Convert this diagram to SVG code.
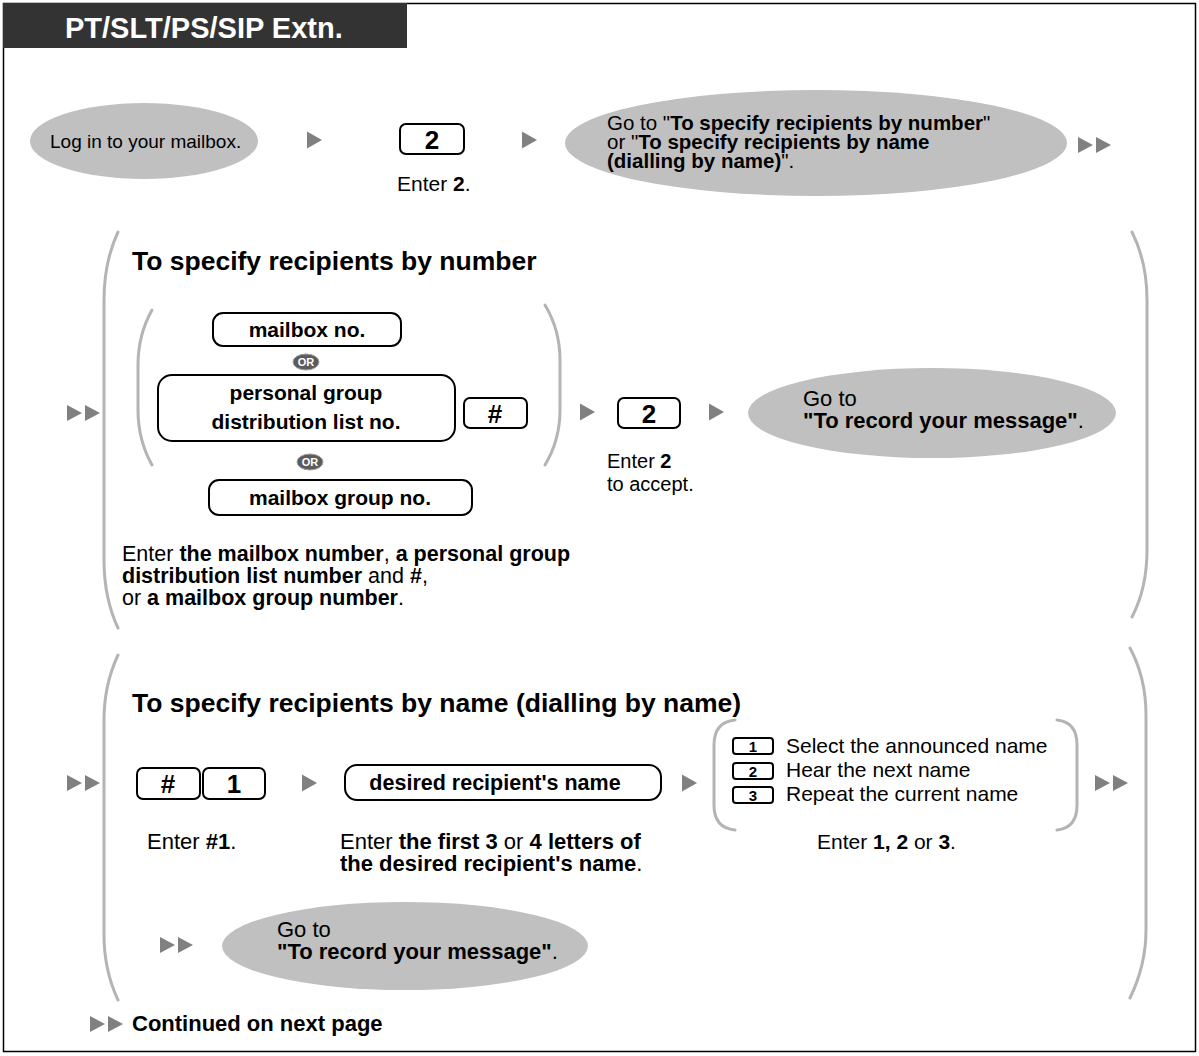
<svg xmlns="http://www.w3.org/2000/svg" xmlns:xlink="http://www.w3.org/1999/xlink" width="1199" height="1056" viewBox="0 0 1199 1056">
<defs>
<style>
text{font-family:"Liberation Sans",Arial,Helvetica,sans-serif;fill:#000}
.b{font-weight:bold}
.t19{font-size:19px}
.t21{font-size:21px}
.t22{font-size:22px}
.ttl{font-size:26.5px;font-weight:bold}
.lbl{font-size:21px;font-weight:bold;text-anchor:middle}
.key{fill:#fff;stroke:#000;stroke-width:2}
.keyt{font-size:26px;font-weight:bold;text-anchor:middle}
.skt{font-size:15px;font-weight:bold;text-anchor:middle}
.ell{fill:#c0c0c0}
.brk{fill:none;stroke:#b4b4b4;stroke-width:3;stroke-linecap:round}
.arr{fill:#808080}
.or{fill:#5c5c5c;stroke:#a0a0a0;stroke-width:1}
.ort{font-size:11px;font-weight:bold;fill:#fff;text-anchor:middle}
</style>
<path id="tri" d="M0,-8.5 L15,0 L0,8.5 Z"/>
<g id="dbl"><path d="M0,-8 L15,0 L0,8 Z"/><path d="M18,-8 L33,0 L18,8 Z"/></g>
</defs>
<rect x="3.5" y="3.5" width="1192" height="1048" fill="#fff" stroke="#000" stroke-width="1.5"/>
<g id="header">
<rect x="3" y="3" width="404" height="45" fill="#333"/>
<text x="65" y="38" class="b" style="font-size:29px;fill:#fff">PT/SLT/PS/SIP Extn.</text>
</g>
<g id="connectors" class="arr">
<use xlink:href="#tri" x="307" y="140"/>
<use xlink:href="#tri" x="522" y="140"/>
<use xlink:href="#dbl" x="1078" y="145"/>
<use xlink:href="#dbl" x="67" y="413"/>
<use xlink:href="#tri" x="580" y="412"/>
<use xlink:href="#tri" x="709" y="412"/>
<use xlink:href="#dbl" x="67" y="783"/>
<use xlink:href="#tri" x="302" y="783"/>
<use xlink:href="#tri" x="682" y="783"/>
<use xlink:href="#dbl" x="1095" y="783"/>
<use xlink:href="#dbl" x="160" y="945"/>
<use xlink:href="#dbl" x="90" y="1024"/>
</g>
<g id="login">
<ellipse class="ell" cx="144" cy="141" rx="114" ry="38"/>
<text x="50" y="148" class="t19">Log in to your mailbox.</text>
</g>
<g id="key2a">
<rect class="key" x="400" y="124" width="64" height="30" rx="6"/>
<text x="432" y="149" class="keyt">2</text>
<text x="397" y="191" class="t21">Enter <tspan class="b">2</tspan>.</text>
</g>
<g id="goto1">
<ellipse class="ell" cx="816" cy="143" rx="251" ry="53"/>
<text x="607" y="130" class="t21" style="font-size:20.5px">Go to "<tspan class="b">To specify recipients by number</tspan>"</text>
<text x="607" y="149" class="t21" style="font-size:20.5px">or "<tspan class="b">To specify recipients by name</tspan></text>
<text x="607" y="168" class="t21" style="font-size:20.5px"><tspan class="b">(dialling by name)</tspan>".</text>
</g>
<g id="byNumber">
<path class="brk" d="M118,232 Q104,262 104,300 L104,560 Q104,598 118,628"/>
<path class="brk" d="M1132,232 Q1147,262 1147,300 L1147,550 Q1147,588 1132,617"/>
<text x="132" y="270" class="ttl">To specify recipients by number</text>
</g>
<g id="options">
<path class="brk" d="M152,310 Q138,335 138,365 L138,410 Q138,440 152,465"/>
<path class="brk" d="M545,305 Q560,330 560,360 L560,410 Q560,440 545,465"/>
<rect class="key" x="213" y="313" width="188" height="33" rx="10"/>
<text x="307" y="337" class="lbl">mailbox no.</text>
<ellipse class="or" cx="306" cy="362" rx="13" ry="8"/>
<text x="306" y="366" class="ort">OR</text>
<rect class="key" x="158" y="375" width="297" height="66" rx="14"/>
<text x="306" y="400" class="lbl">personal group</text>
<text x="306" y="429" class="lbl">distribution list no.</text>
<ellipse class="or" cx="310" cy="462" rx="13" ry="8"/>
<text x="310" y="466" class="ort">OR</text>
<rect class="key" x="209" y="480" width="263" height="35" rx="10"/>
<text x="340" y="505" class="lbl">mailbox group no.</text>
</g>
<g id="keyHash">
<rect class="key" x="464" y="398" width="63" height="30" rx="6"/>
<text x="495" y="423" class="keyt">#</text>
</g>
<g id="key2b">
<rect class="key" x="618" y="398" width="62" height="30" rx="6"/>
<text x="649" y="423" class="keyt">2</text>
<text x="607" y="468" class="t19" style="font-size:20px">Enter <tspan class="b">2</tspan></text>
<text x="607" y="491" class="t19" style="font-size:20px">to accept.</text>
</g>
<g id="goto2">
<ellipse class="ell" cx="932" cy="413" rx="184" ry="45"/>
<text x="803" y="406" class="t22">Go to</text>
<text x="803" y="428" class="t22"><tspan class="b">"To record your message"</tspan>.</text>
</g>
<g id="note1">
<text x="122" y="561" class="t21" style="font-size:21.5px">Enter <tspan class="b">the mailbox number</tspan>, <tspan class="b">a personal group</tspan></text>
<text x="122" y="583" class="t21" style="font-size:21.5px"><tspan class="b">distribution list number</tspan> and <tspan class="b">#</tspan>,</text>
<text x="122" y="605" class="t21" style="font-size:21.5px">or <tspan class="b">a mailbox group number</tspan>.</text>
</g>
<g id="byName">
<path class="brk" d="M118,655 Q104,685 104,720 L104,935 Q104,970 118,1000"/>
<path class="brk" d="M1130,648 Q1146,678 1146,715 L1146,930 Q1146,965 1130,998"/>
<text x="132" y="712" class="ttl">To specify recipients by name (dialling by name)</text>
</g>
<g id="keyHash1">
<rect class="key" x="137" y="768" width="63" height="31" rx="6"/>
<text x="168" y="793" class="keyt">#</text>
<rect class="key" x="203" y="768" width="62" height="31" rx="6"/>
<text x="234" y="793" class="keyt">1</text>
<text x="147" y="849" class="t22">Enter <tspan class="b">#1</tspan>.</text>
</g>
<g id="name">
<rect class="key" x="345" y="765" width="316" height="35" rx="12"/>
<text x="495" y="790" class="lbl" style="font-size:21.5px">desired recipient's name</text>
<text x="340" y="849" class="t22">Enter <tspan class="b">the first 3</tspan> or <tspan class="b">4 letters of</tspan></text>
<text x="340" y="871" class="t22"><tspan class="b">the desired recipient's name</tspan>.</text>
</g>
<g id="choices">
<path class="brk" d="M735,720 Q714,722 714,745 L714,805 Q714,828 735,830"/>
<path class="brk" d="M1057,720 Q1077,722 1077,745 L1077,805 Q1077,828 1057,830"/>
<rect class="key" x="733" y="738" width="40" height="16" rx="3"/>
<text x="753" y="751.5" class="skt">1</text>
<text x="786" y="753" class="t21">Select the announced name</text>
<rect class="key" x="733" y="763" width="40" height="16" rx="3"/>
<text x="753" y="776.5" class="skt">2</text>
<text x="786" y="777" class="t21">Hear the next name</text>
<rect class="key" x="733" y="787" width="40" height="16" rx="3"/>
<text x="753" y="800.5" class="skt">3</text>
<text x="786" y="801" class="t21">Repeat the current name</text>
<text x="817" y="849" class="t21">Enter <tspan class="b">1, 2</tspan> or <tspan class="b">3</tspan>.</text>
</g>
<g id="goto3">
<ellipse class="ell" cx="405" cy="946" rx="183" ry="44"/>
<text x="277" y="937" class="t22">Go to</text>
<text x="277" y="959" class="t22"><tspan class="b">"To record your message"</tspan>.</text>
</g>
<g id="footer">
<text x="132" y="1031" class="b" style="font-size:22px">Continued on next page</text>
</g>
</svg>
